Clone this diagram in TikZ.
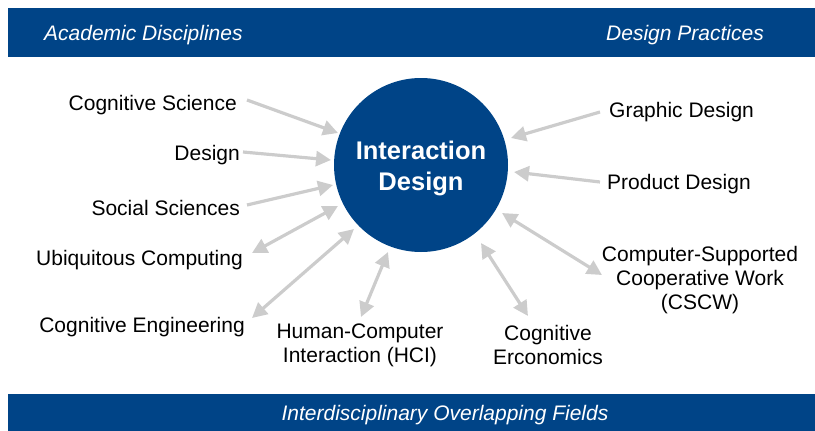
\documentclass[tikz,border=0pt]{standalone}
\usepackage{fontspec}
\setmainfont{Liberation Sans}
\usetikzlibrary{arrows.meta}
\definecolor{idblue}{RGB}{0,68,135}
\definecolor{arrgray}{RGB}{204,204,204}
\tikzset{
  lbl/.style={font=\fontsize{21}{24}\selectfont, inner sep=0pt, align=center},
  hdr/.style={font=\fontsize{21}{24}\selectfont\itshape, text=white, inner sep=0pt},
  bar/.style={fill=idblue, draw=none},
  conn/.style={draw=arrgray, line width=3.2pt, -{Triangle[length=15pt,width=15pt]}},
  conn2/.style={draw=arrgray, line width=3.2pt, {Triangle[length=15pt,width=15pt]}-{Triangle[length=15pt,width=15pt]}},
}
\begin{document}
\begin{tikzpicture}[x=1pt,y=-1pt]
\useasboundingbox (0,0) rectangle (815,431);
% bars
\path[bar] (8,8) rectangle (815,57);
\path[bar] (8,394) rectangle (815,431);
\node[hdr, anchor=west] (h1) at (44,35) {Academic Disciplines};
\node[hdr, anchor=east] (h2) at (764,35) {Design Practices};
\node[hdr] (h3) at (445,415) {Interdisciplinary Overlapping Fields};
% centre
\node[circle, fill=idblue, minimum size=174pt, inner sep=0pt, text=white,
      font=\fontsize{25.5}{31}\selectfont\bfseries, align=center] (ID) at (421,165) {};
\node[text=white, font=\fontsize{25.5}{31}\selectfont\bfseries, align=center, inner sep=0pt] (IDt) at (421,168) {Interaction\\Design};
% labels
\node[lbl, anchor=east] (cs) at (237,105) {Cognitive Science};
\node[lbl, anchor=east] (de) at (240,155) {Design};
\node[lbl, anchor=east] (ss) at (240,208) {Social Sciences};
\node[lbl, anchor=east] (uc) at (243,260) {Ubiquitous Computing};
\node[lbl, anchor=east] (ce) at (245,327) {Cognitive Engineering};
\node[lbl] (hci) at (360,345) {Human-Computer\\Interaction (HCI)};
\node[lbl] (cer) at (548,345) {Cognitive\\Erconomics};
\node[lbl, anchor=west] (gd) at (609,112) {Graphic Design};
\node[lbl, anchor=west] (pd) at (607,184) {Product Design};
\node[lbl] (cscw) at (700,280) {Computer-Supported\\Cooperative Work\\(CSCW)};
% arrow end points
\coordinate (a1s) at (247,100); \coordinate (a1e) at (338,133);
\coordinate (a2s) at (243,152); \coordinate (a2e) at (331,160);
\coordinate (a3s) at (247,205); \coordinate (a3e) at (333,185);
\coordinate (a4s) at (252,253); \coordinate (a4e) at (338,206);
\coordinate (a5s) at (252,318); \coordinate (a5e) at (354,229);
\coordinate (a6s) at (361,317); \coordinate (a6e) at (388,252);
\coordinate (a7s) at (481,243); \coordinate (a7e) at (528,316);
\coordinate (a8s) at (502,213); \coordinate (a8e) at (602,275);
\coordinate (a9s) at (600,112); \coordinate (a9e) at (511,138);
\coordinate (a10s) at (600,182); \coordinate (a10e) at (514,172);
\draw[conn] (a1s) -- (a1e);
\draw[conn] (a2s) -- (a2e);
\draw[conn] (a3s) -- (a3e);
\draw[conn2] (a4s) -- (a4e);
\draw[conn2] (a5s) -- (a5e);
\draw[conn2] (a6s) -- (a6e);
\draw[conn2] (a7s) -- (a7e);
\draw[conn2] (a8s) -- (a8e);
\draw[conn] (a9s) -- (a9e);
\draw[conn] (a10s) -- (a10e);
\end{tikzpicture}
\end{document}
